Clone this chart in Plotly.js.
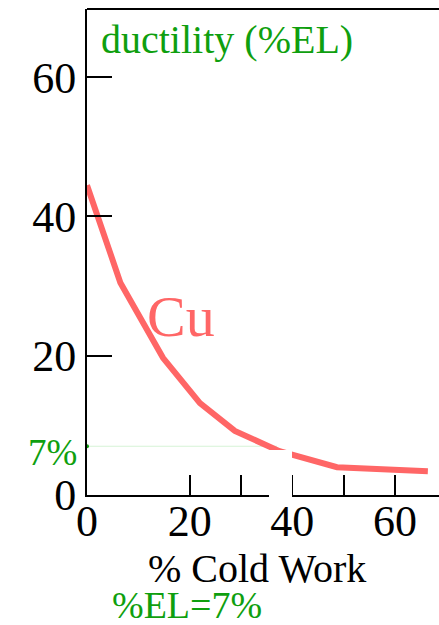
<!DOCTYPE html>
<html>
<head>
<meta charset="utf-8">
<script src="https://cdn.plot.ly/plotly-3.0.1.min.js"></script>
<style>
  html, body { margin: 0; padding: 0; background: #fff; }
  #chart { width: 439px; height: 625px; }
</style>
</head>
<body>
<div id="chart"></div>
<script>
// Ductility of copper vs. amount of cold work
const coldWork = [0, 6.5, 14.8, 22, 28.8, 37.5, 48.7, 66.4];
const ductility = [44.5, 30.5, 19.7, 13.2, 9.2, 6.3, 4.0, 3.4];

// Target elongation level and where it meets the curve
const targetEL = 7;
const targetLineX = [0, 37];

// Axis ticks
const xTickVals = [0, 20, 30, 40, 50, 60];
const xTickText = ['0', '20', '', '40', '', '60'];
const yTickVals = [0, 20, 40, 60];
const yTickText = ['0', '20', '40', '60'];

const serif = '"Liberation Serif", "Times New Roman", Times, serif';
const green = '#0f9f0f';
const red = '#ff6666';

// plot area size in px, used to place paper-referenced decorations
const plotW = 352, plotH = 486;

const traces = [
  {
    x: targetLineX,
    y: targetLineX.map(() => targetEL),
    mode: 'lines',
    line: { color: '#d6f3d6', width: 1 },
    hoverinfo: 'skip'
  },
  {
    x: [targetLineX[0]],
    y: [targetEL],
    mode: 'markers',
    marker: { color: green, size: 4 },
    cliponaxis: false,
    hoverinfo: 'skip'
  },
  {
    x: coldWork,
    y: ductility,
    mode: 'lines',
    line: { color: red, width: 6 },
    cliponaxis: false
  }
];

const layout = {
  width: 439,
  height: 625,
  margin: { l: 87, r: 0, t: 9, b: 130 },
  showlegend: false,
  paper_bgcolor: '#fff',
  plot_bgcolor: '#fff',
  font: { family: serif, color: '#000' },
  xaxis: {
    range: [0, 68.57],
    showgrid: false,
    zeroline: false,
    showline: true,
    linecolor: '#000',
    linewidth: 2,
    ticks: 'inside',
    ticklen: 20,
    tickwidth: 2,
    tickcolor: '#000',
    tickmode: 'array',
    tickvals: xTickVals,
    ticktext: xTickText,
    ticklabelstandoff: -14,
    tickfont: { family: serif, size: 44, color: '#000' }
  },
  yaxis: {
    range: [0, 69.8],
    showgrid: false,
    zeroline: false,
    showline: true,
    linecolor: '#000',
    linewidth: 2,
    ticks: 'inside',
    ticklen: 25,
    tickwidth: 2,
    tickcolor: '#000',
    tickmode: 'array',
    tickvals: yTickVals,
    ticktext: yTickText,
    tickfont: { family: serif, size: 44, color: '#000' }
  },
  shapes: [
    // top frame line
    { type: 'line', xref: 'paper', yref: 'paper', x0: 0, x1: 1, y0: 1, y1: 1,
      line: { color: '#000', width: 2 } },
    // white gap across the axis near 40
    { type: 'rect', xref: 'paper', yref: 'paper',
      x0: 182 / plotW, x1: 205 / plotW, y0: -6 / plotH, y1: 45 / plotH,
      fillcolor: '#fff', line: { width: 0 }, layer: 'above' }
  ],
  annotations: [
    { text: 'ductility (%EL)', xref: 'paper', yref: 'paper', x: 12 / plotW, y: 1 - 30 / plotH,
      xanchor: 'left', yanchor: 'middle', showarrow: false,
      font: { family: serif, size: 40, color: green } },
    { text: 'Cu', xref: 'x', yref: 'y', x: 18.3, y: 25.6,
      xanchor: 'center', yanchor: 'middle', showarrow: false,
      font: { family: serif, size: 58, color: red } },
    { text: '7%', xref: 'paper', yref: 'y', x: -35 / plotW, y: targetEL, yshift: -6,
      xanchor: 'center', yanchor: 'middle', showarrow: false,
      font: { family: serif, size: 37, color: green } },
    { text: '% Cold Work', xref: 'paper', yref: 'paper', x: 170 / plotW, y: -73 / plotH,
      xanchor: 'center', yanchor: 'middle', showarrow: false,
      font: { family: serif, size: 40, color: '#000' } },
    { text: '%EL=7%', xref: 'paper', yref: 'paper', x: 100 / plotW, y: -110 / plotH,
      xanchor: 'center', yanchor: 'middle', showarrow: false,
      font: { family: serif, size: 38, color: green } }
  ]
};

Plotly.newPlot('chart', traces, layout, { displayModeBar: false, staticPlot: true });
</script>
</body>
</html>
